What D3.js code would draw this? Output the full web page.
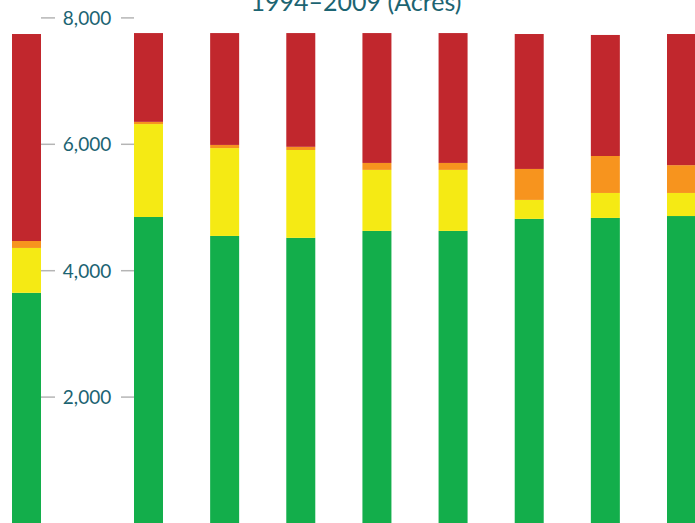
<!DOCTYPE html>
<html>
<head>
<meta charset="utf-8">
<script src="https://cdn.jsdelivr.net/npm/d3@7"></script>
<style>
  html, body { margin: 0; padding: 0; background: #fff; overflow: hidden; }
  text { font-family: Lato, "Open Sans", sans-serif; }
</style>
</head>
<body>
<svg id="chart" width="695" height="523"></svg>
<script>
// acres by class, one entry per survey year
var years  = ['1994', '1996', '1998', '2000', '2002', '2004', '2006', '2008', '2009']
var green  = [3650, 4850, 4550, 4520, 4630, 4630, 4820, 4835, 4865]
var yellow = [710, 1470, 1390, 1390, 965, 965, 300, 395, 365]
var orange = [110, 35, 50, 50, 110, 110, 490, 585, 440]
var red    = [3275, 1405, 1770, 1800, 2055, 2055, 2135, 1915, 2075]
var yticks = [2000, 4000, 6000, 8000]
var title  = '1994\u20132009 (Acres)'

var keys = ['green', 'yellow', 'orange', 'red']
var colors = {'green': '#13ae4b', 'yellow': '#f5ea14', 'orange': '#f7941e', 'red': '#c1272d'}

var svg = d3.select('#chart')
var width = +svg.attr('width')
var height = +svg.attr('height')

var rows = years.map(function(yr, i) {
	return {'year': yr, 'green': green[i], 'yellow': yellow[i], 'orange': orange[i], 'red': red[i]}
})

var stack = d3.stack().keys(keys)(rows)

var y = d3.scaleLinear()
	.domain([0, 8000])
	.range([523.5, 17.9])

// first bar sits left of the axis, the rest are evenly spaced after it
var x = d3.scaleLinear()
	.domain([0, 1, years.length - 1])
	.range([12, 134, 667])
var barWidth = 29

svg.append('g')
	.selectAll('g')
	.data(stack)
	.enter()
	.append('g')
	.attr('fill', function(d) { return colors[d.key] })
	.selectAll('rect')
	.data(function(d) { return d })
	.enter()
	.append('rect')
	.attr('x', function(d, i) { return x(i) })
	.attr('y', function(d) { return y(d[1]) })
	.attr('width', barWidth)
	.attr('height', function(d) { return y(d[0]) - y(d[1]) })

// y axis: label in the gap with a short dash either side
var axis = svg.append('g').attr('class', 'y-axis')
var tick = axis.selectAll('.tick')
	.data(yticks)
	.enter()
	.append('g')
	.attr('class', 'tick')
	.attr('transform', function(d) { return 'translate(0,' + y(d) + ')' })

tick.append('line')
	.attr('x1', 41).attr('x2', 55)
	.attr('stroke', '#b5b5b5').attr('stroke-width', 1.5)
tick.append('line')
	.attr('x1', 121).attr('x2', 134)
	.attr('stroke', '#b5b5b5').attr('stroke-width', 1.5)
tick.append('text')
	.attr('x', 87)
	.attr('dy', '0.36em')
	.attr('text-anchor', 'middle')
	.attr('fill', '#1c6472')
	.style('font-size', '19px')
	.text(d3.format(','))

svg.append('text')
	.attr('x', 356)
	.attr('y', 10.5)
	.attr('text-anchor', 'middle')
	.attr('fill', '#1c6472')
	.style('font-size', '25px')
	.text(title)
</script>
</body>
</html>
